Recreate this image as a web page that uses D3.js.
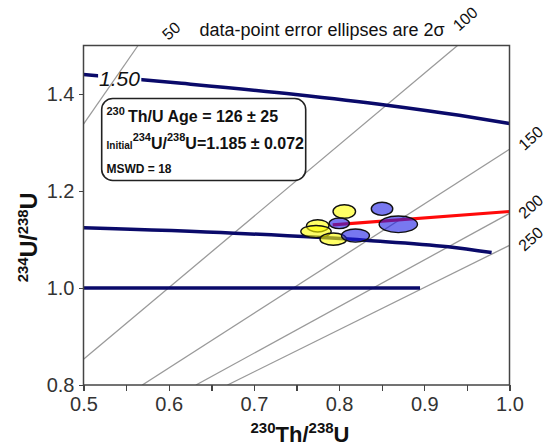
<!DOCTYPE html>
<meta charset="utf-8">
<style>
body { margin: 0; background: #fff; }
svg { font-family: Arial, "Liberation Sans", sans-serif; }
.axis line { stroke: #444; stroke-width: 1.4; shape-rendering: crispEdges; }
.axis path { display: none; }
.axis text { font-size: 20px; fill: #333; }
</style>
<body>
<script src="https://d3js.org/d3.v7.min.js"></script>
<script>

var margin = {top: 45.5, right: 41.5, bottom: 63, left: 83.5},
    width = 551 - margin.left - margin.right,
    height = 448 - margin.top - margin.bottom;

// tick values
var xMajor = [0.5, 0.6, 0.7, 0.8, 0.9, 1.0];
var xMinor = [0.55, 0.65, 0.75, 0.85, 0.95];
var yMajor = [0.8, 1.0, 1.2, 1.4];

// isochrons (age, ka): two end points each [th/u, u/u]
var isoAges = [50, 100, 150, 200, 250];
var isoLines = [
  [[0.5, 1.338], [0.564, 1.5]],
  [[0.5, 0.853], [0.939, 1.5]],
  [[0.569, 0.8], [1.0, 1.286]],
  [[0.632, 0.8], [1.0, 1.154]],
  [[0.669, 0.8], [1.0, 1.088]]
];
var isoLabelPos = [[0.603, 1.530], [0.948, 1.555], [1.025, 1.309], [1.025, 1.168], [1.025, 1.101]];

// initial 234U/238U evolution curves
var curve150 = [[0.5, 1.440], [0.615, 1.422], [0.749, 1.399], [0.856, 1.377], [0.941, 1.356], [1.0, 1.339]];
var curve115 = [[0.5, 1.124], [0.677, 1.113], [0.834, 1.098], [0.928, 1.085], [0.979, 1.073]];
var curve100 = [[0.5, 1.0], [0.895, 1.0]];

// fitted line
var redLine = [[0.7925, 1.130], [1.0, 1.1577]];

// ellipses: [th/u, u/u, half-width, half-height]
var yellowEll = [
  [0.8061, 1.1577, 0.0132, 0.0140],
  [0.7749, 1.1282, 0.0132, 0.0126],
  [0.7729, 1.1164, 0.0178, 0.0126],
  [0.7932, 1.1007, 0.0156, 0.0126]
];
var blueEll = [
  [0.8002, 1.1333, 0.0119, 0.0109],
  [0.8192, 1.1081, 0.0164, 0.0136],
  [0.8504, 1.1633, 0.0126, 0.0136],
  [0.8695, 1.1313, 0.0225, 0.0171]
];

var x = d3.scaleLinear().domain([0.5, 1.0]).range([0, width]);
var y = d3.scaleLinear().domain([0.8, 1.5]).range([height, 0]);

var line = d3.line().x(function(d) { return x(d[0]); }).y(function(d) { return y(d[1]); });
var smooth = d3.line().x(function(d) { return x(d[0]); }).y(function(d) { return y(d[1]); })
    .curve(d3.curveMonotoneX);

var svgRoot = d3.select('body').append('svg')
    .attr('width', 551)
    .attr('height', 448);

var svg = svgRoot.append('g')
    .attr('transform', 'translate(' + margin.left + ',' + margin.top + ')');

var defs = svgRoot.append('defs');
defs.append('clipPath').attr('id', 'plotclip')
  .append('rect').attr('width', width).attr('height', height);

var plot = svg.append('g').attr('clip-path', 'url(#plotclip)');

// grey isochrons
plot.selectAll('.iso')
    .data(isoLines)
  .enter().append('path')
    .attr('class', 'iso')
    .attr('d', line)
    .attr('fill', 'none')
    .attr('stroke', '#9a9a9a')
    .attr('stroke-width', 1.3);

// label on top curve
var lab = svg.append('text')
    .attr('x', x(0.5423))
    .attr('y', y(1.432))
    .attr('text-anchor', 'middle')
    .attr('dominant-baseline', 'central')
    .style('font-size', '21px')
    .style('font-style', 'italic')
    .style('fill', '#111')
    .text('1.50');
var bb = lab.node().getBBox();

var mask = defs.append('mask').attr('id', 'labmask')
    .attr('maskUnits', 'userSpaceOnUse')
    .attr('x', -margin.left).attr('y', -margin.top).attr('width', 551).attr('height', 448);
mask.append('rect').attr('x', -margin.left).attr('y', -margin.top)
    .attr('width', 551).attr('height', 448).attr('fill', '#fff');
mask.append('rect').attr('x', bb.x - 1).attr('y', bb.y).attr('width', bb.width + 2)
    .attr('height', bb.height).attr('fill', '#000');

var navy = '#0a0a6a';
plot.append('path').attr('d', smooth(curve150)).attr('mask', 'url(#labmask)')
    .attr('fill', 'none').attr('stroke', navy).attr('stroke-width', 3.5);
plot.append('path').attr('d', smooth(curve115))
    .attr('fill', 'none').attr('stroke', navy).attr('stroke-width', 3.5);
plot.append('path').attr('d', line(curve100))
    .attr('fill', 'none').attr('stroke', navy).attr('stroke-width', 3.5);

plot.append('path').attr('d', line(redLine))
    .attr('fill', 'none').attr('stroke', '#ff0a0a').attr('stroke-width', 3.2);

function ellipses(data, fill) {
  plot.selectAll(null)
      .data(data)
    .enter().append('ellipse')
      .attr('cx', function(d) { return x(d[0]); })
      .attr('cy', function(d) { return y(d[1]); })
      .attr('rx', function(d) { return x(d[0] + d[2]) - x(d[0]); })
      .attr('ry', function(d) { return y(d[1]) - y(d[1] + d[3]); })
      .attr('fill', fill)
      .attr('fill-opacity', 0.6)
      .attr('stroke', '#111')
      .attr('stroke-width', 1.4);
}
ellipses(yellowEll, '#ffff00');
ellipses(blueEll, '#1e1ee6');

// axes
var fmt = d3.format('.1f');
svg.append('g')
    .attr('class', 'x axis')
    .attr('transform', 'translate(0,' + height + ')')
    .call(d3.axisBottom(x).tickValues(xMajor.concat(xMinor))
      .tickSize(6).tickPadding(6)
      .tickFormat(function(d) { return xMajor.indexOf(d) >= 0 ? fmt(d) : ''; }));

svg.append('g')
    .attr('class', 'y axis')
    .call(d3.axisLeft(y).tickValues(yMajor).tickSize(5).tickPadding(4).tickFormat(fmt));

svg.append('rect')
    .attr('width', width).attr('height', height)
    .attr('fill', 'none').attr('stroke', '#444').attr('stroke-width', 1.5);

// age labels
svg.selectAll('.agelab')
    .data(isoAges)
  .enter().append('text')
    .attr('class', 'agelab')
    .attr('transform', function(d, i) {
      return 'translate(' + x(isoLabelPos[i][0]) + ',' + y(isoLabelPos[i][1]) + ') rotate(-42)';
    })
    .attr('text-anchor', 'middle')
    .attr('dominant-baseline', 'central')
    .style('font-size', '16px')
    .style('fill', '#111')
    .text(function(d) { return d; });

// caption
svgRoot.append('text')
    .attr('x', 322).attr('y', 36)
    .attr('text-anchor', 'middle')
    .style('font-size', '18px')
    .style('fill', '#111')
    .text('data-point error ellipses are 2σ');

// rich text helper: parts = [text, size, shift]
function rich(g, px, py, parts, anchor) {
  var t = g.append('text').attr('x', px).attr('y', py)
      .attr('text-anchor', anchor || 'start')
      .style('font-weight', 'bold').style('fill', '#111');
  var prev = 0;
  parts.forEach(function(p) {
    t.append('tspan')
      .attr('dy', (p[2] - prev))
      .style('font-size', p[1] + 'px')
      .text(p[0]);
    prev = p[2];
  });
  return t;
}

// result box
var box = svgRoot.append('g');
box.append('rect')
    .attr('x', 101.7).attr('y', 98.5).attr('width', 204).attr('height', 82)
    .attr('rx', 11).attr('ry', 11)
    .attr('fill', '#fff').attr('stroke', '#222').attr('stroke-width', 1.6);
rich(box, 106.5, 122, [['230', 11, -7], ['\u2009Th/U Age = 126 \u00b1 25', 16, 0]]);
rich(box, 106.5, 148.5, [['Initial', 10, 0], ['234', 11, -8], ['U/', 16, 0], ['238', 11, -8], ['U=1.185 \u00b1 0.072', 16, 0]]);
rich(box, 106.5, 173, [['MSWD = 18', 12, 0]]);

// axis titles
rich(svgRoot, 300, 442, [['230', 15, -9], ['Th/', 22, 0], ['238', 15, -9], ['U', 22, 0]], 'middle');
var yt = rich(svgRoot, 0, 0, [['234', 15, -9], ['U/', 23, 0], ['238', 15, -9], ['U', 23, 0]], 'middle');
yt.attr('transform', 'translate(37,237.5) rotate(-90)');

</script>
</body>
